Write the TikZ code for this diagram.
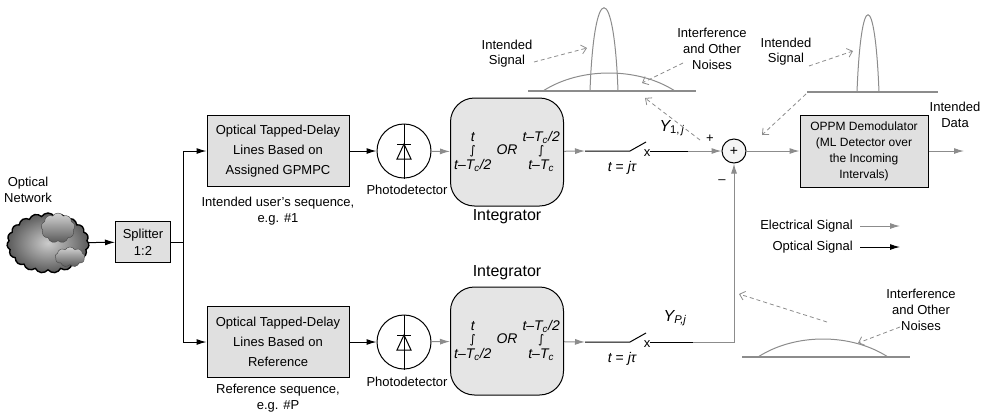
\documentclass[tikz,border=0pt]{standalone}
\usepackage{fontspec}
\setmainfont{Liberation Sans}
\newfontfamily\symfont{DejaVu Sans}
\usetikzlibrary{arrows.meta,shapes.symbols}

\definecolor{elecgray}{gray}{0.55}
\definecolor{boxfill}{gray}{0.88}
\definecolor{intfill}{gray}{0.9}

% limits of the integrator block
\newcommand{\intlimits}{%
  {\itshape\fontsize{14}{15}\selectfont
  \renewcommand{\arraystretch}{0.9}%
  \begin{tabular}{@{}c@{\hspace{5pt}}c@{\hspace{5pt}}c@{}}
    t & & t–T\textsubscript{c}/2\\
    {\symfont\upshape\fontsize{12}{12}\selectfont ∫} & OR & {\symfont\upshape\fontsize{12}{12}\selectfont ∫}\\
    t–T\textsubscript{c}/2 & & t–T\textsubscript{c}
  \end{tabular}}}

% diode drawn inside a photodetector circle
\newcommand{\diode}[1]{%
  \draw[line width=1pt] (#1.north) -- (#1.south);
  \draw[line width=1pt] ([xshift=-7pt,yshift=-8pt]#1.center) -- ([xshift=7pt,yshift=-8pt]#1.center)
    -- ([yshift=7pt]#1.center) -- cycle;
  \draw[line width=1pt] ([xshift=-7pt,yshift=7pt]#1.center) -- ([xshift=7pt,yshift=7pt]#1.center);}

\tikzset{
  lbl/.style={font=\fontsize{13}{16}\selectfont, align=center, inner sep=0pt},
  tdlbox/.style={draw, line width=1pt, fill=boxfill, minimum width=142pt, minimum height=71pt,
    align=center, inner sep=0pt, font=\fontsize{13}{20}\selectfont},
  splitbox/.style={draw, line width=1pt, fill=boxfill, minimum width=55pt, minimum height=41pt,
    align=center, inner sep=0pt, font=\fontsize{13}{17}\selectfont},
  demodbox/.style={draw, line width=1pt, fill=boxfill, minimum width=128pt, minimum height=72pt,
    align=center, inner sep=0pt, font=\fontsize{12}{16}\selectfont},
  pdcirc/.style={circle, draw, line width=1pt, minimum size=54pt, inner sep=0pt},
  intbox/.style={draw, line width=1pt, fill=intfill, rounded corners=24pt,
    minimum width=113pt, minimum height=108pt, inner sep=0pt},
  sumcirc/.style={circle, draw, line width=1pt, fill=gray!8, minimum size=24pt, inner sep=0pt,
    font=\fontsize{14}{14}\selectfont},
  netcloud/.style={cloud, cloud puffs=19, cloud puff arc=115, aspect=1.4, draw, line width=1.4pt,
    inner color=gray!40, outer color=gray!70!black, minimum width=82pt, minimum height=60pt},
  puff/.style={cloud, cloud puffs=9, cloud puff arc=120, draw=gray!55!black, line width=0.4pt,
    top color=gray!35, bottom color=gray!70!black},
  opt/.style={line width=1pt, -{Latex[length=10pt,width=6pt]}},
  wire/.style={line width=1pt},
  elec/.style={draw=elecgray, line width=1pt, -{Latex[length=10pt,width=6pt]}},
  hint/.style={draw=elecgray, dash pattern=on 4pt off 3pt, line width=0.8pt,
    -{Straight Barb[length=5pt,width=9pt]}},
  axisline/.style={draw=elecgray, line width=2.4pt},
  pulse/.style={draw=elecgray, line width=1pt},
}

\begin{document}
\begin{tikzpicture}[x=1pt,y=-1pt]
\useasboundingbox (0,0) rectangle (986,416);

% network and splitter
\node[lbl] (netlbl) at (28,190) {Optical\\Network};
\node[netcloud] (net) at (48,243) {};
\node[puff, minimum width=34pt, minimum height=30pt] (puffa) at (58,228) {};
\node[puff, minimum width=30pt, minimum height=20pt] (puffb) at (70,257) {};
\node[splitbox] (split) at (143,242) {Splitter\\1:2};
\coordinate (fork) at (183,242);

% upper branch
\node[tdlbox] (tdl1) at (278,151) {Optical Tapped-Delay\\Lines Based on\\Assigned GPMPC};
\node[lbl] (seq1) at (278,211) {Intended user's sequence,\\e.g. \#1};
\node[pdcirc] (pd1) at (404,151) {};
\node[lbl] (pd1lbl) at (407,190) {Photodetector};
\node[intbox] (int1) at (507,152) {\intlimits};
\node[lbl, font=\fontsize{16}{18}\selectfont] (int1lbl) at (507,217) {Integrator};
\coordinate (sw1a) at (585,151);
\coordinate (sw1b) at (630,151);
\coordinate (sw1arm) at (646,142);
\node[lbl] (sw1x) at (647,153) {x};
\coordinate (sw1c) at (650,151);
\coordinate (sw1d) at (688,151);
\node[lbl, font=\fontsize{16}{18}\selectfont] (y1) at (672,128) {{\itshape Y}\textsubscript{1,\,{\itshape j}}};
\node[lbl, font=\fontsize{14}{16}\selectfont] (t1) at (622,168) {{\itshape t} = {\itshape jτ}};

% lower branch
\node[tdlbox] (tdl2) at (278,342) {Optical Tapped-Delay\\Lines Based on\\Reference};
\node[lbl] (seq2) at (278,398) {Reference sequence,\\e.g. \#P};
\node[pdcirc] (pd2) at (404,342) {};
\node[lbl] (pd2lbl) at (407,382) {Photodetector};
\node[intbox] (int2) at (507,341) {\intlimits};
\node[lbl, font=\fontsize{16}{18}\selectfont] (int2lbl) at (507,273) {Integrator};
\coordinate (sw2a) at (585,342);
\coordinate (sw2b) at (630,342);
\coordinate (sw2arm) at (646,333);
\node[lbl] (sw2x) at (647,344) {x};
\coordinate (sw2c) at (650,342);
\coordinate (sw2d) at (693,342);
\node[lbl, font=\fontsize{16}{18}\selectfont] (yp) at (675,318) {{\itshape Y}\textsubscript{{\itshape P,j}}};
\node[lbl, font=\fontsize{14}{16}\selectfont] (t2) at (622,359) {{\itshape t} = {\itshape jτ}};

% summing point and demodulator
\node[sumcirc] (sum) at (734,151) {+};
\node[lbl] (plus) at (710,139) {+};
\node[lbl] (minus) at (722,182) {–};
\node[demodbox] (demod) at (864,151) {OPPM Demodulator\\(ML Detector over\\the Incoming\\Intervals)};
\coordinate (out) at (964,151);
\node[lbl] (data) at (955,115) {Intended\\Data};

\diode{pd1}
\diode{pd2}

% optical paths
\draw[opt] (net) -- (split);
\draw[wire] (split) -- (fork);
\draw[opt] (fork) |- (tdl1);
\draw[opt] (fork) |- (tdl2);
\draw[opt] (tdl1) -- (pd1);
\draw[opt] (tdl2) -- (pd2);

% electrical paths
\draw[elec] (pd1) -- (int1);
\draw[elec] (int1) -- (sw1a);
\draw[wire] (sw1a) -- (sw1b) -- (sw1arm);
\draw[wire] (sw1c) -- (sw1d);
\draw[elec] (sw1d) -- (sum);
\draw[elec] (pd2) -- (int2);
\draw[elec] (int2) -- (sw2a);
\draw[wire] (sw2a) -- (sw2b) -- (sw2arm);
\draw[wire] (sw2c) -- (sw2d);
\draw[elec] (sw2d) -| (sum);
\draw[elec] (sum) -- (demod);
\draw[elec] (demod) -- (out);

% legend
\node[lbl, anchor=east] (elecleg) at (853,226) {Electrical Signal};
\node[lbl, anchor=east] (optleg) at (853,247) {Optical Signal};
\coordinate (elecend) at (900,226);
\coordinate (optend) at (900,247);
\draw[elec] ([xshift=7pt]elecleg.east) -- (elecend);
\draw[opt] ([xshift=7pt]optleg.east) -- (optend);

% pulse sketch after the integrator
\draw[axisline] (528,91) -- (696,91);
\draw[pulse] (543,91) .. controls (580,67) and (638,67) .. (675,91);
\draw[pulse] (590,91) .. controls (594,-20) and (614,-20) .. (618,91);
\node[lbl, font=\fontsize{13}{15}\selectfont] (sig1) at (507,54) {Intended\\Signal};
\node[lbl] (noise1) at (712,49) {Interference\\and Other\\Noises};
\coordinate (sig1from) at (534,62);
\coordinate (sig1to) at (587,48);
\coordinate (noise1from) at (683,63);
\coordinate (noise1to) at (642,83);
\coordinate (y1from) at (700,140);
\coordinate (y1to) at (645,98);
\draw[hint] (sig1from) -- (sig1to);
\draw[hint] (noise1from) -- (noise1to);
\draw[hint] (y1from) -- (y1to);

% pulse sketch after the subtraction
\draw[axisline] (807,92) -- (938,92);
\draw[pulse] (857,92) .. controls (861,-11) and (875,-11) .. (879,92);
\node[lbl, font=\fontsize{13}{15}\selectfont] (sig2) at (786,52) {Intended\\Signal};
\coordinate (sig2from) at (809,66);
\coordinate (sig2to) at (853,51);
\coordinate (difffrom) at (806,94);
\coordinate (diffto) at (762,135);
\draw[hint] (sig2from) -- (sig2to);
\draw[hint] (difffrom) -- (diffto);

% noise sketch on the reference path
\draw[axisline] (742,357) -- (910,357);
\draw[pulse] (758,357) .. controls (795,333) and (851,333) .. (888,357);
\node[lbl] (noise2) at (921,310) {Interference\\and Other\\Noises};
\coordinate (noise2from) at (900,327);
\coordinate (noise2to) at (858,343);
\coordinate (ypfrom) at (827,322);
\coordinate (ypto) at (739,294);
\draw[hint] (noise2from) -- (noise2to);
\draw[hint] (ypfrom) -- (ypto);
\end{tikzpicture}
\end{document}
